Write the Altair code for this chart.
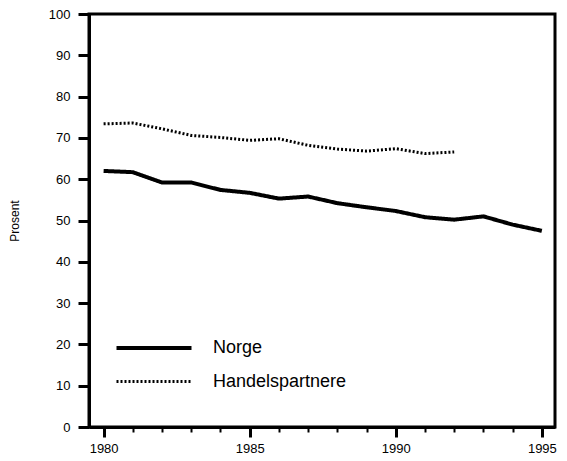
import altair as alt
import pandas as pd

aar = list(range(1980, 1996))
norge = [62.0, 61.7, 59.2, 59.2, 57.4, 56.7, 55.3, 55.8, 54.2, 53.2, 52.3, 50.8, 50.2, 51.0, 49.0, 47.5]
aar_handel = list(range(1980, 1993))
handelspartnere = [73.4, 73.6, 72.2, 70.6, 70.1, 69.4, 69.8, 68.2, 67.3, 66.8, 67.4, 66.2, 66.6]

serier = ["Norge", "Handelspartnere"]

df = pd.concat([
    pd.DataFrame({"År": aar, "Prosent": norge, "Serie": "Norge"}),
    pd.DataFrame({"År": aar_handel, "Prosent": handelspartnere, "Serie": "Handelspartnere"}),
])

font = "Liberation Sans"

chart = alt.Chart(df).mark_line(color="black", strokeJoin="round").encode(
    x=alt.X(
        "År:Q",
        scale=alt.Scale(domain=[1979.5, 1995.45], nice=False, zero=False),
        axis=alt.Axis(
            title=None,
            values=aar,
            format="d",
            labelExpr="datum.value % 5 === 0 ? datum.label : ''",
            tickSize={"condition": {"test": "datum.value % 5 !== 0", "value": 5}, "value": 10},
            tickWidth={"condition": {"test": "datum.value % 5 !== 0", "value": 2}, "value": 3},
            labelPadding=5,
            grid=False,
        ),
    ),
    y=alt.Y(
        "Prosent:Q",
        scale=alt.Scale(domain=[0, 100], nice=False),
        axis=alt.Axis(
            title="Prosent",
            values=list(range(0, 101, 10)),
            tickSize=11,
            tickWidth=3,
            labelPadding=8,
            titlePadding=27,
            titleFontSize=12,
            titleFontWeight="normal",
            grid=False,
        ),
    ),
    strokeDash=alt.StrokeDash(
        "Serie:N",
        scale=alt.Scale(domain=serier, range=[[1, 0], [2, 2]]),
        legend=alt.Legend(
            title=None,
            orient="none",
            legendX=48,
            legendY=317,
            symbolType="M-2.5,0H2.5",
            symbolSize=900,
            labelFontSize=18,
            labelFont=font,
            labelOffset=42,
            rowPadding=8,
        ),
    ),
    strokeWidth=alt.StrokeWidth(
        "Serie:N",
        scale=alt.Scale(domain=serier, range=[4, 3]),
        legend=None,
    ),
).properties(
    width=466,
    height=413,
    autosize=alt.AutoSizeParams(type="none"),
    padding={"left": 81, "top": 6, "right": 3, "bottom": 27},
).configure_view(
    stroke="black",
    strokeWidth=3,
).configure_axis(
    domainColor="black",
    domainWidth=3,
    tickColor="black",
    labelColor="black",
    titleColor="black",
    labelFont=font,
    titleFont=font,
    labelFontSize=13,
)

chart.save("out.html", embed_options={"renderer": "svg", "actions": False})
